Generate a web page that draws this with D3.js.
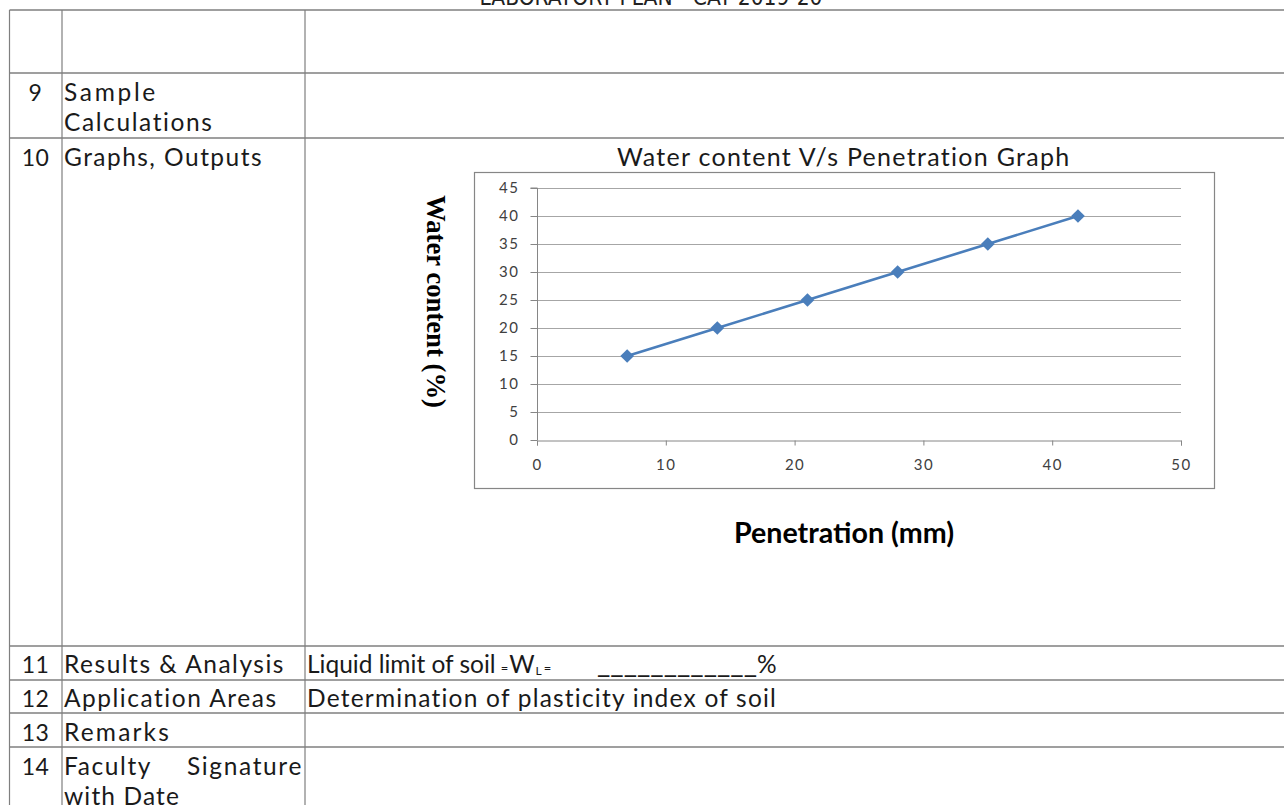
<!DOCTYPE html>
<html>
<head>
<meta charset="utf-8">
<script src="https://cdn.jsdelivr.net/npm/d3@7"></script>
<style>
  html, body { margin: 0; padding: 0; background: #fff; }
  svg { display: block; }
</style>
</head>
<body>
<svg id="page" width="1284" height="805"></svg>
<script>
// ---------------- data ----------------
const penetration = [7, 14, 21, 28, 35, 42];          // mm (x)
const waterContent = [15, 20, 25, 30, 35, 40];        // % (y)
const xTicks = [0, 10, 20, 30, 40, 50];
const yTicks = [0, 5, 10, 15, 20, 25, 30, 35, 40, 45];
const chartTitle = "Water content V/s Penetration Graph";
const xTitle = "Penetration (mm)";
const yTitle = "Water content (%)";
const headerText = "LABORATORY PLAN - CAY 2019-20";
const rowNumbers = ["", "9", "10", "11", "12", "13", "14"];
const rowLabels = [[""], ["Sample", "Calculations"], ["Graphs, Outputs"], ["Results & Analysis"],
                   ["Application Areas"], ["Remarks"], ["Faculty Signature", "with Date"]];
const resultParts = ["Liquid limit of soil", "=", "W", "L", "=", "____________", "%"];
const applicationText = "Determination of plasticity index of soil";

// ---------------- layout ----------------
const svg = d3.select("#page");
const FONT = "Lato, 'Open Sans', sans-serif";
const lineCol = "#7f7f7f";
const rowLines = [10, 73, 138, 646, 680, 713, 747];
const colX = [9.5, 62, 305];
const BODY = 24.5;

// scale font size to a width
function fit(sel, target, base) {
  sel.style("font-size", base + "px");
  const w = sel.node().getComputedTextLength();
  sel.style("font-size", (base * target / w).toFixed(2) + "px");
  return sel;
}
// keep font size, widen with letter-spacing to a width
function spread(sel, target, size) {
  sel.style("font-size", size + "px").style("letter-spacing", "0px");
  const w = sel.node().getComputedTextLength();
  const n = sel.text().length;
  const ls = n > 1 ? Math.max(0, (target - w) / n) : 0;
  sel.style("letter-spacing", ls.toFixed(2) + "px");
  return sel;
}
const txt = (parent, xx, yy, s) => parent.append("text").attr("x", xx).attr("y", yy)
  .style("font-family", FONT).attr("fill", "#1a1a1a").text(s);
const width = sel => sel.node().getComputedTextLength();

// header (clipped at top, as in the source page)
fit(svg.append("text").attr("x", 651).attr("y", 5).attr("text-anchor", "middle")
  .style("font-family", "'Liberation Sans Narrow', 'DejaVu Sans Condensed', sans-serif")
  .attr("fill", "#222").text(headerText), 343, 18);

// table lines
const g = svg.append("g");
rowLines.forEach(y => g.append("line").attr("x1", colX[0]).attr("x2", 1284).attr("y1", y).attr("y2", y)
  .attr("stroke", lineCol).attr("stroke-width", 1.5));
colX.forEach(x => g.append("line").attr("x1", x).attr("x2", x).attr("y1", 10).attr("y2", 805)
  .attr("stroke", lineCol).attr("stroke-width", 1.2));

// table text
const baselines = [[], [101, 131], [166], [673], [707], [741], [775, 805]];
rowNumbers.forEach((n, i) => {
  if (!n) return;
  txt(g, 35.5, baselines[i][0], n).attr("text-anchor", "middle").style("font-size", "23px")
    .style("letter-spacing", "0.5px");
});
const labelWidths = { "Sample": 94, "Calculations": 150, "Graphs, Outputs": 199, "Results & Analysis": 221,
  "Application Areas": 214, "Remarks": 107, "with Date": 116 };
rowLabels.forEach((lines, i) => {
  lines.forEach((t, j) => {
    if (!t) return;
    const yy = baselines[i][j];
    if (t === "Faculty Signature") {
      const [a, b] = t.split(" ");
      spread(txt(g, 64, yy, a), 88, BODY);
      spread(txt(g, 187, yy, b), 116, BODY);
      return;
    }
    spread(txt(g, 64, yy, t), labelWidths[t] || 150, BODY);
  });
});

// row 11: result line
{
  const y0 = baselines[3][0];
  const a = txt(g, 307, y0, resultParts[0]).style("font-size", BODY + "px");
  let cx = 307 + width(a) + 5;
  const e1 = txt(g, cx, y0, resultParts[1]).style("font-size", "13px");
  cx += width(e1) + 1;
  const w = txt(g, cx, y0, resultParts[2]).style("font-size", BODY + "px");
  cx += width(w) + 1;
  const l = txt(g, cx, y0 + 2, resultParts[3]).style("font-size", "12px");
  cx += width(l) + 2;
  txt(g, cx, y0, resultParts[4]).style("font-size", "13px");
  fit(txt(g, 597, y0, resultParts[5]), 160, 23);
  txt(g, 757, y0, resultParts[6]).style("font-size", BODY + "px");
}
// row 12
spread(txt(g, 307, baselines[4][0], applicationText), 471, BODY);

// ---------------- chart ----------------
const x = d3.scaleLinear().domain([0, 50]).range([537, 1181]);
const y = d3.scaleLinear().domain([0, 45]).range([440, 188]);
const c = svg.append("g");

// chart area border
c.append("rect").attr("x", 474.5).attr("y", 172.5).attr("width", 740).attr("height", 316)
  .attr("fill", "none").attr("stroke", "#868686").attr("stroke-width", 1.2);

// gridlines
c.append("g").selectAll("line").data(yTicks.filter(d => d > 0)).join("line")
  .attr("x1", x(0)).attr("x2", x(50)).attr("y1", d => y(d) + 0.5).attr("y2", d => y(d) + 0.5)
  .attr("stroke", "#a6a6a6").attr("stroke-width", 1);

// axes
const yAxis = d3.axisLeft(y).tickValues(yTicks).tickSize(7).tickPadding(11);
const xAxis = d3.axisBottom(x).tickValues(xTicks).tickSize(5).tickPadding(14);
const ya = c.append("g").attr("transform", `translate(${x(0) + 0.5},0)`).call(yAxis);
const xa = c.append("g").attr("transform", `translate(0,${y(0) + 0.5})`).call(xAxis);
[ya, xa].forEach(a => {
  a.select(".domain").attr("stroke", "#868686");
  a.selectAll(".tick line").attr("stroke", "#868686");
  a.selectAll("text").style("font-family", FONT).style("font-size", "15px")
    .style("letter-spacing", "1.5px").attr("fill", "#404040");
});
ya.select(".domain").attr("d", `M-7,${y(45)}H0V${y(0)}`);

// series
const pts = penetration.map((p, i) => [p, waterContent[i]]);
c.append("path").datum(pts)
  .attr("d", d3.line().x(d => x(d[0])).y(d => y(d[1])))
  .attr("fill", "none").attr("stroke", "#4a7ebb").attr("stroke-width", 2.6);
c.append("g").selectAll("path").data(pts).join("path")
  .attr("transform", d => `translate(${x(d[0])},${y(d[1])})`)
  .attr("d", d3.symbol(d3.symbolDiamond2, 120)())
  .attr("fill", "#4a7ebb");

// titles
spread(txt(c, 617, 166, chartTitle), 454, 25);
fit(c.append("text").attr("x", 844).attr("y", 543).attr("text-anchor", "middle")
  .style("font-family", FONT).style("font-weight", "bold").attr("fill", "#000").text(xTitle), 220, 22);
fit(c.append("text").attr("transform", "translate(427,301.5) rotate(90)").attr("text-anchor", "middle")
  .style("font-family", "'Liberation Serif', 'DejaVu Serif', serif").style("font-weight", "bold")
  .attr("fill", "#000").text(yTitle), 213, 22);
</script>
</body>
</html>
